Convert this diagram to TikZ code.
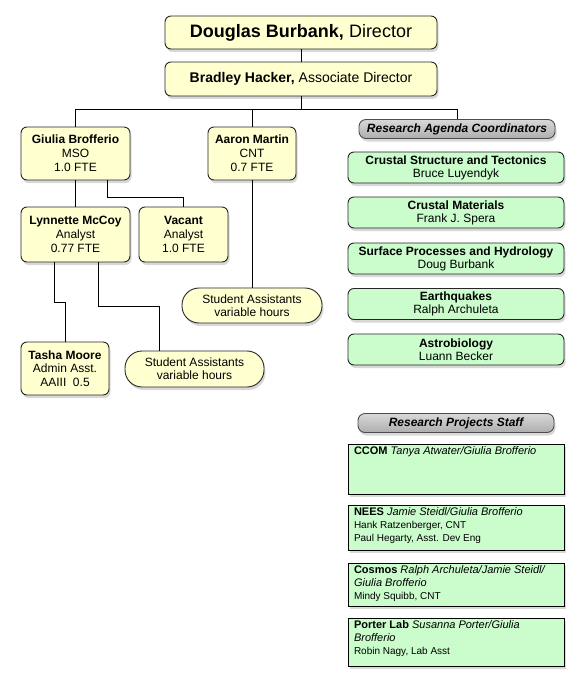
\documentclass[tikz,border=0pt]{standalone}
\usepackage{fontspec}
\setmainfont{Liberation Sans}
\usetikzlibrary{shadows}
\definecolor{yfill}{RGB}{255,255,208}
\definecolor{gfill}{RGB}{202,252,204}
\begin{document}
\begin{tikzpicture}[x=1pt,y=-1pt,
  shad/.style={drop shadow={shadow xshift=1.5pt,shadow yshift=-3pt,opacity=0.3}},
  ybox/.style={draw=black!85, line width=0.9pt, fill=yfill, rounded corners=6pt, shad, align=center, inner sep=0pt, font=\fontsize{12}{14}\selectfont},
  pill/.style={ybox, rounded corners=17pt, font=\fontsize{12}{13}\selectfont},
  gbox/.style={draw=black!85, line width=0.9pt, fill=gfill, rounded corners=6pt, shad, align=center, inner sep=0pt, minimum width=216pt, minimum height=31pt, font=\fontsize{12}{13}\selectfont},
  hbox/.style={draw=black!70, line width=0.9pt, top color=black!15, bottom color=black!32, rounded corners=7pt, shad, inner sep=0pt, minimum width=196pt, minimum height=19pt, font=\fontsize{12}{14}\selectfont\bfseries\itshape},
  sbox/.style={draw=black, line width=1pt, fill=gfill, shad, inner xsep=6pt, inner ysep=3pt, align=left, font=\fontsize{10}{13}\selectfont},
  conn/.style={draw=black, line width=0.8pt}
]
\useasboundingbox[fill=white] (0,0) rectangle (585,690);

% top
\node[ybox, minimum width=272pt, minimum height=33pt, font=\fontsize{18}{20}\selectfont] (dir) at (301,32.5) {\textbf{Douglas Burbank,} Director};
\node[ybox, minimum width=272pt, minimum height=34pt, font=\fontsize{14}{16}\selectfont] (assoc) at (301,79) {\textbf{Bradley Hacker,} Associate Director};

% left staff
\node[ybox, minimum width=109pt, minimum height=53pt] (giulia) at (75.5,153.5) {\textbf{Giulia Brofferio}\\MSO\\1.0 FTE};
\node[ybox, minimum width=88pt, minimum height=53pt] (aaron) at (252,153.5) {\textbf{Aaron Martin}\\CNT\\0.7 FTE};
\node[ybox, minimum width=109pt, minimum height=55pt] (lynn) at (75.5,234.5) {\textbf{Lynnette McCoy}\\Analyst\\0.77 FTE};
\node[ybox, minimum width=89pt, minimum height=55pt] (vacant) at (183.5,234.5) {\textbf{Vacant}\\Analyst\\1.0 FTE};
\node[pill, minimum width=140pt, minimum height=35pt] (sa1) at (252,305.5) {Student Assistants\\variable hours};
\node[ybox, minimum width=88pt, minimum height=53pt, font=\fontsize{12}{13.5}\selectfont] (tasha) at (65,368.5) {\textbf{Tasha Moore}\\Admin Asst.\\AAIII\ \ 0.5};
\node[pill, minimum width=139pt, minimum height=36pt] (sa2) at (194.5,369) {Student Assistants\\variable hours};

% research agenda coordinators
\node[hbox] (rac) at (457,129) {Research Agenda Coordinators};
\node[gbox] (cst) at (456,167.5) {\textbf{Crustal Structure and Tectonics}\\Bruce Luyendyk};
\node[gbox] (cm) at (456,212.5) {\textbf{Crustal Materials}\\Frank J. Spera};
\node[gbox] (sph) at (456,258.5) {\textbf{Surface Processes and Hydrology}\\Doug Burbank};
\node[gbox] (eq) at (456,304) {\textbf{Earthquakes}\\Ralph Archuleta};
\node[gbox] (ab) at (456,349.5) {\textbf{Astrobiology}\\Luann Becker};

% research projects staff
\node[hbox] (rps) at (456,423) {Research Projects Staff};
\node[sbox] (ccom) at (456,469) {\parbox[c][44pt][t]{204pt}{{\fontsize{11}{13}\selectfont\textbf{CCOM} \textit{Tanya Atwater/Giulia Brofferio}}}};
\node[sbox] (nees) at (456,527.5) {\parbox[c][39pt][t]{204pt}{{\fontsize{11}{13}\selectfont\textbf{NEES} \textit{Jamie Steidl/Giulia Brofferio}}\\Hank Ratzenberger, CNT\\Paul Hegarty, Asst. Dev Eng}};
\node[sbox] (cosmos) at (456,584.5) {\parbox[c][37pt][t]{204pt}{{\fontsize{11}{13}\selectfont\textbf{Cosmos} \textit{Ralph Archuleta/Jamie Steidl/}\\\textit{Giulia Brofferio}}\\Mindy Squibb, CNT}};
\node[sbox] (porter) at (456,642) {\parbox[c][42pt][t]{204pt}{{\fontsize{11}{13}\selectfont\textbf{Porter Lab} \textit{Susanna Porter/Giulia}\\\textit{Brofferio}}\\Robin Nagy, Lab Asst}};

% connectors
\coordinate (bus) at (301,109);
\draw[conn] (dir) -- (assoc);
\draw[conn] (assoc.south) -- (bus);
\draw[conn] (giulia.north) |- (bus -| rac.north) -- (rac.north);
\draw[conn] (aaron.north) -- (aaron.north |- bus);
\draw[conn] (giulia) -- (lynn);
\draw[conn] ([xshift=31.5pt]giulia.south) -- ++(0,-17pt) -| (vacant.north);
\draw[conn] (aaron) -- (sa1);
\draw[conn] ([xshift=-21.5pt]lynn.south) -- ++(0,-40pt) -| (tasha.north);
\draw[conn] ([xshift=22.5pt]lynn.south) -- ++(0,-44pt) -| ([xshift=-35.5pt]sa2.north);
\end{tikzpicture}
\end{document}
